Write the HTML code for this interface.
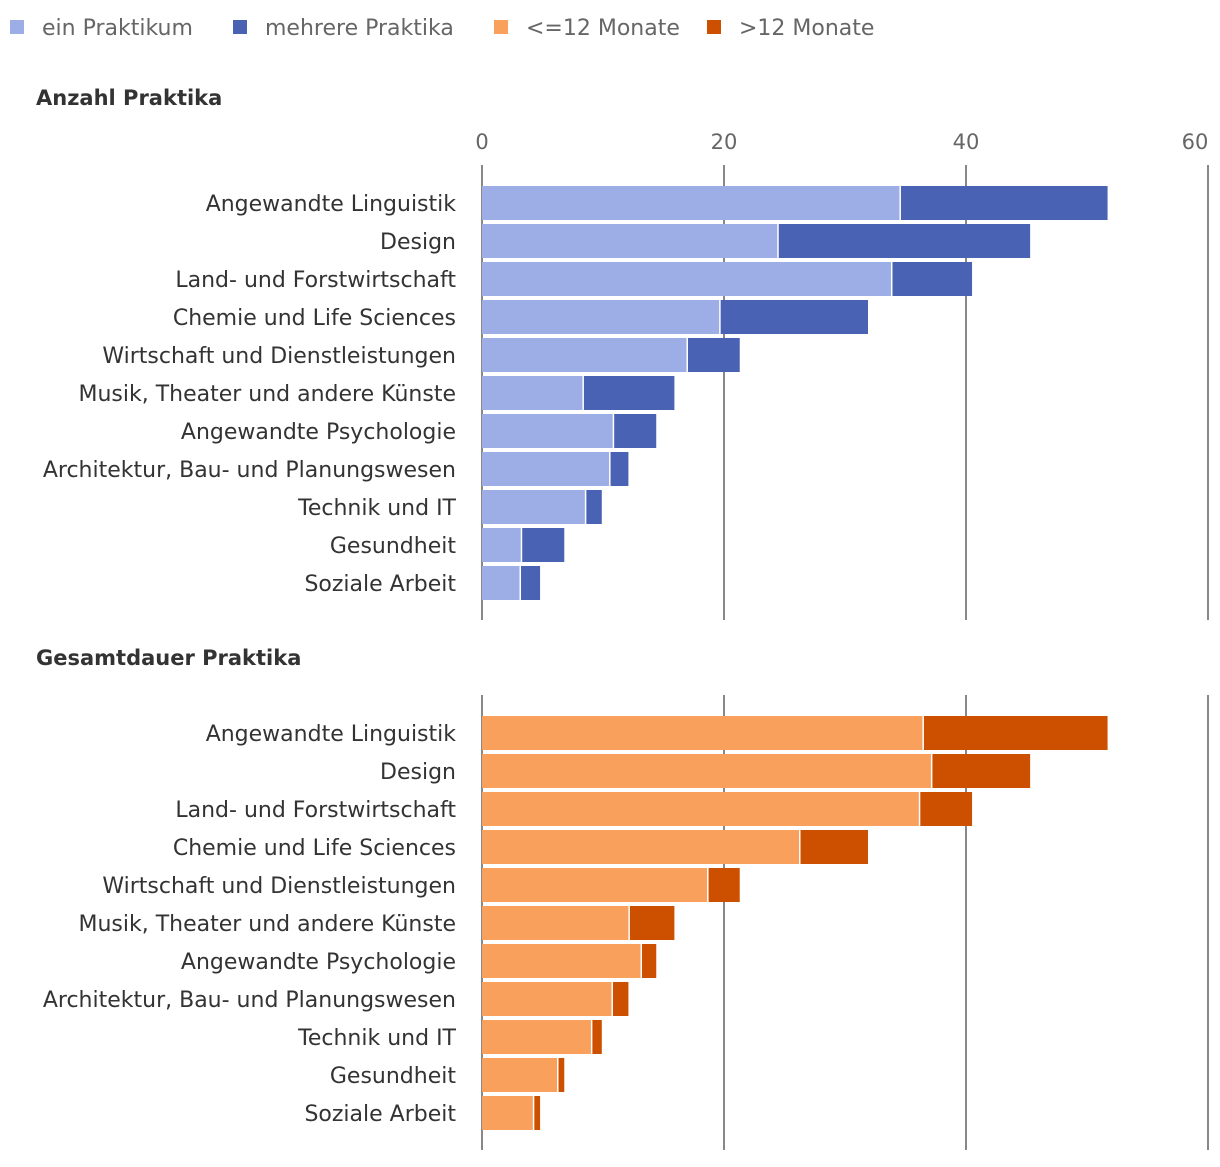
<!DOCTYPE html>
<html><head><meta charset="utf-8">
<style>
body{margin:0;background:#fff;font-family:"Liberation Sans","DejaVu Sans",sans-serif;}
svg text{font-family:"DejaVu Sans","Liberation Sans",sans-serif;}
</style></head>
<body>
<svg id="chart" width="1220" height="1162" xmlns="http://www.w3.org/2000/svg">
<g id="legend"></g>
<g id="p1"></g>
<g id="p2"></g>
</svg>
<script>
const categories=["Angewandte Linguistik","Design","Land- und Forstwirtschaft","Chemie und Life Sciences","Wirtschaft und Dienstleistungen","Musik, Theater und andere Künste","Angewandte Psychologie","Architektur, Bau- und Planungswesen","Technik und IT","Gesundheit","Soziale Arbeit"];
const einPraktikum=[34.5,24.4,33.8,19.6,16.9,8.3,10.8,10.5,8.5,3.2,3.1];
const mehrerePraktika=[17.2,20.9,6.7,12.3,4.4,7.6,3.6,1.6,1.4,3.6,1.7];
const bis12Monate=[36.4,37.1,36.1,26.2,18.6,12.1,13.1,10.7,9.0,6.2,4.2];
const ueber12Monate=[15.3,8.2,4.4,5.7,2.7,3.8,1.3,1.4,0.9,0.6,0.6];
const ticks=[0,20,40,60];
const NS="http://www.w3.org/2000/svg";
const x=v=>482+v*12.1;
function el(p,t,a,txt){const e=document.createElementNS(NS,t);for(const k in a)e.setAttribute(k,a[k]);if(txt!==undefined)e.textContent=txt;p.appendChild(e);return e;}
const leg=document.getElementById('legend');
const L=[["ein Praktikum","#9daee6",10],["mehrere Praktika","#4a62b3",233],["<=12 Monate","#f9a05c",494],[">12 Monate","#cc5000",707]];
L.forEach(l=>{const g=el(leg,'g',{});


el(g,'rect',{x:l[2],y:20,width:14,height:14,fill:l[1]});
el(g,'text',{x:l[2]+32,y:35,'font-size':22,fill:'#666'},l[0]);});
function panel(id,title,ty,gy0,gy1,by,a,b,ca,cb,showTicks){
const p=document.getElementById(id);
const t=el(p,'text',{x:36,y:ty,'font-size':21,'font-weight':'bold',fill:'#333'},title);


ticks.forEach(v=>{const ln=el(p,'line',{x1:x(v),x2:x(v),y1:gy0,y2:gy1,stroke:'#888','stroke-width':2});


if(showTicks){const tt=el(p,'text',{x:v===60?1195:x(v),y:149,'font-size':21,fill:'#666','text-anchor':'middle'},String(v));

}});
categories.forEach((c,i)=>{const cy=by+i*38;
const lt=el(p,'text',{x:456,y:cy+8,'font-size':22,fill:'#333','text-anchor':'end'},c);


const r1=el(p,'rect',{x:x(0),y:cy-17,width:x(a[i])-x(0),height:34,fill:ca});


const r2=el(p,'rect',{x:x(a[i])+1.5,y:cy-17,width:Math.max(0,x(a[i]+b[i])-x(a[i])-1.5),height:34,fill:cb});

});}
panel('p1','Anzahl Praktika',105,165,620,203,einPraktikum,mehrerePraktika,'#9daee6','#4a62b3',true);
panel('p2','Gesamtdauer Praktika',665,695,1150,733,bis12Monate,ueber12Monate,'#f9a05c','#cc5000',false);
</script>
</body></html>
